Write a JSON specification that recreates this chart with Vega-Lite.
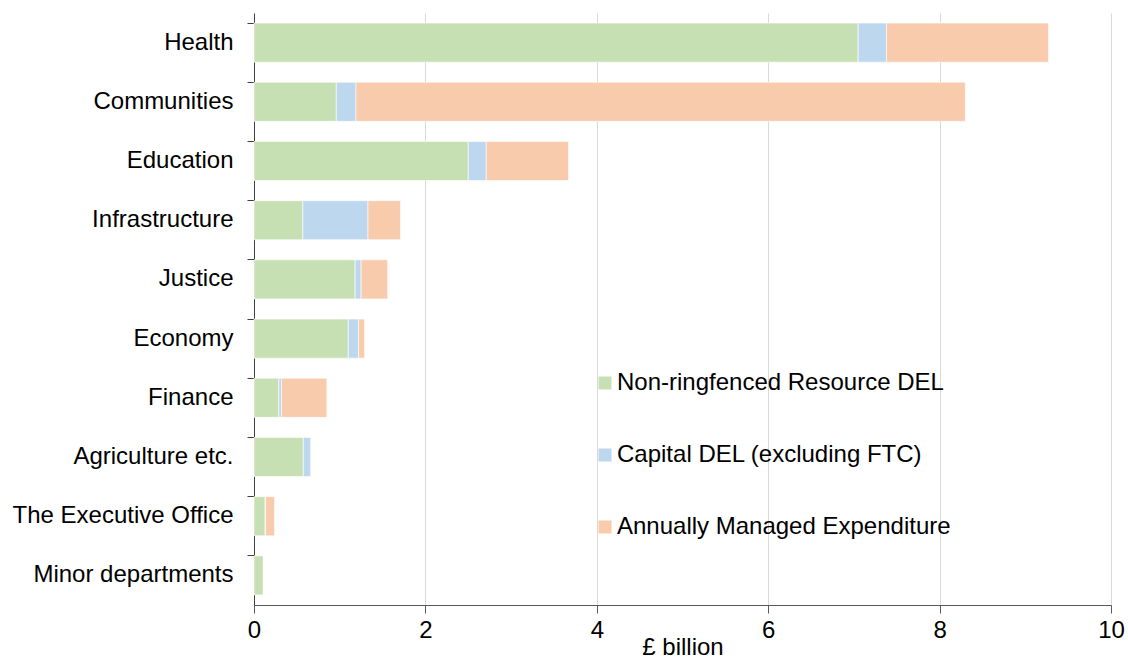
{
  "$schema": "https://vega.github.io/schema/vega-lite/v6.json",
  "width": 857,
  "height": 592,
  "autosize": "none",
  "padding": {"left": 254, "top": 13, "right": 17, "bottom": 54},
  "background": "white",
  "config": {
    "view": {"stroke": null},
    "font": "Liberation Sans",
    "axis": {"labelFont": "Liberation Sans", "titleFont": "Liberation Sans", "labelColor": "#000000", "titleColor": "#000000"},
    "legend": {"labelFont": "Liberation Sans", "padding": 0}
  },
  "data": {
    "values": [
      {"dept": "Health", "type": "Non-ringfenced Resource DEL", "value": 7.05, "ord": 1},
      {"dept": "Health", "type": "Capital DEL (excluding FTC)", "value": 0.33, "ord": 2},
      {"dept": "Health", "type": "Annually Managed Expenditure", "value": 1.89, "ord": 3},
      {"dept": "Communities", "type": "Non-ringfenced Resource DEL", "value": 0.96, "ord": 1},
      {"dept": "Communities", "type": "Capital DEL (excluding FTC)", "value": 0.23, "ord": 2},
      {"dept": "Communities", "type": "Annually Managed Expenditure", "value": 7.11, "ord": 3},
      {"dept": "Education", "type": "Non-ringfenced Resource DEL", "value": 2.50, "ord": 1},
      {"dept": "Education", "type": "Capital DEL (excluding FTC)", "value": 0.21, "ord": 2},
      {"dept": "Education", "type": "Annually Managed Expenditure", "value": 0.96, "ord": 3},
      {"dept": "Infrastructure", "type": "Non-ringfenced Resource DEL", "value": 0.57, "ord": 1},
      {"dept": "Infrastructure", "type": "Capital DEL (excluding FTC)", "value": 0.76, "ord": 2},
      {"dept": "Infrastructure", "type": "Annually Managed Expenditure", "value": 0.38, "ord": 3},
      {"dept": "Justice", "type": "Non-ringfenced Resource DEL", "value": 1.18, "ord": 1},
      {"dept": "Justice", "type": "Capital DEL (excluding FTC)", "value": 0.07, "ord": 2},
      {"dept": "Justice", "type": "Annually Managed Expenditure", "value": 0.31, "ord": 3},
      {"dept": "Economy", "type": "Non-ringfenced Resource DEL", "value": 1.10, "ord": 1},
      {"dept": "Economy", "type": "Capital DEL (excluding FTC)", "value": 0.12, "ord": 2},
      {"dept": "Economy", "type": "Annually Managed Expenditure", "value": 0.07, "ord": 3},
      {"dept": "Finance", "type": "Non-ringfenced Resource DEL", "value": 0.29, "ord": 1},
      {"dept": "Finance", "type": "Capital DEL (excluding FTC)", "value": 0.03, "ord": 2},
      {"dept": "Finance", "type": "Annually Managed Expenditure", "value": 0.53, "ord": 3},
      {"dept": "Agriculture etc.", "type": "Non-ringfenced Resource DEL", "value": 0.575, "ord": 1},
      {"dept": "Agriculture etc.", "type": "Capital DEL (excluding FTC)", "value": 0.09, "ord": 2},
      {"dept": "Agriculture etc.", "type": "Annually Managed Expenditure", "value": 0.0, "ord": 3},
      {"dept": "The Executive Office", "type": "Non-ringfenced Resource DEL", "value": 0.13, "ord": 1},
      {"dept": "The Executive Office", "type": "Capital DEL (excluding FTC)", "value": 0.005, "ord": 2},
      {"dept": "The Executive Office", "type": "Annually Managed Expenditure", "value": 0.105, "ord": 3},
      {"dept": "Minor departments", "type": "Non-ringfenced Resource DEL", "value": 0.11, "ord": 1},
      {"dept": "Minor departments", "type": "Capital DEL (excluding FTC)", "value": 0.0, "ord": 2},
      {"dept": "Minor departments", "type": "Annually Managed Expenditure", "value": 0.0, "ord": 3}
    ]
  },
  "mark": {"type": "bar", "stroke": "#ffffff", "strokeWidth": 0.75, "strokeOpacity": 0.8},
  "encoding": {
    "y": {
      "field": "dept", "type": "nominal",
      "sort": ["Health", "Communities", "Education", "Infrastructure", "Justice", "Economy", "Finance", "Agriculture etc.", "The Executive Office", "Minor departments"],
      "scale": {"paddingInner": 0.34, "paddingOuter": 0.17},
      "axis": {
        "title": null,
        "labelFontSize": 24,
        "labelPadding": 14,
        "labelLimit": 400,
        "tickSize": 7,
        "tickColor": "#404040",
        "domainColor": "#404040",
        "bandPosition": 0,
        "grid": false
      }
    },
    "x": {
      "field": "value", "type": "quantitative",
      "stack": "zero",
      "scale": {"domain": [0, 10], "nice": false},
      "axis": {
        "title": "£ billion",
        "titleFontSize": 24,
        "titleFontWeight": "normal",
        "titlePadding": -7,
        "labelFontSize": 24,
        "labelPadding": 5,
        "labelOverlap": false,
        "tickSize": 8,
        "values": [0, 2, 4, 6, 8, 10],
        "tickColor": "#595959",
        "domainColor": "#595959",
        "gridColor": "#d9d9d9",
        "labelFlush": false
      }
    },
    "color": {
      "field": "type", "type": "nominal",
      "scale": {
        "domain": ["Non-ringfenced Resource DEL", "Capital DEL (excluding FTC)", "Annually Managed Expenditure"],
        "range": ["#c6e0b4", "#bdd7ee", "#f8cbad"]
      },
      "legend": {
        "title": null,
        "orient": "none",
        "legendX": 339,
        "legendY": 358,
        "symbolType": "square",
        "symbolSize": 169,
        "symbolStrokeWidth": 0,
        "labelFontSize": 24,
        "labelOffset": 0,
        "rowPadding": 48,
        "labelLimit": 500
      }
    },
    "order": {"field": "ord", "type": "quantitative"}
  }
}
